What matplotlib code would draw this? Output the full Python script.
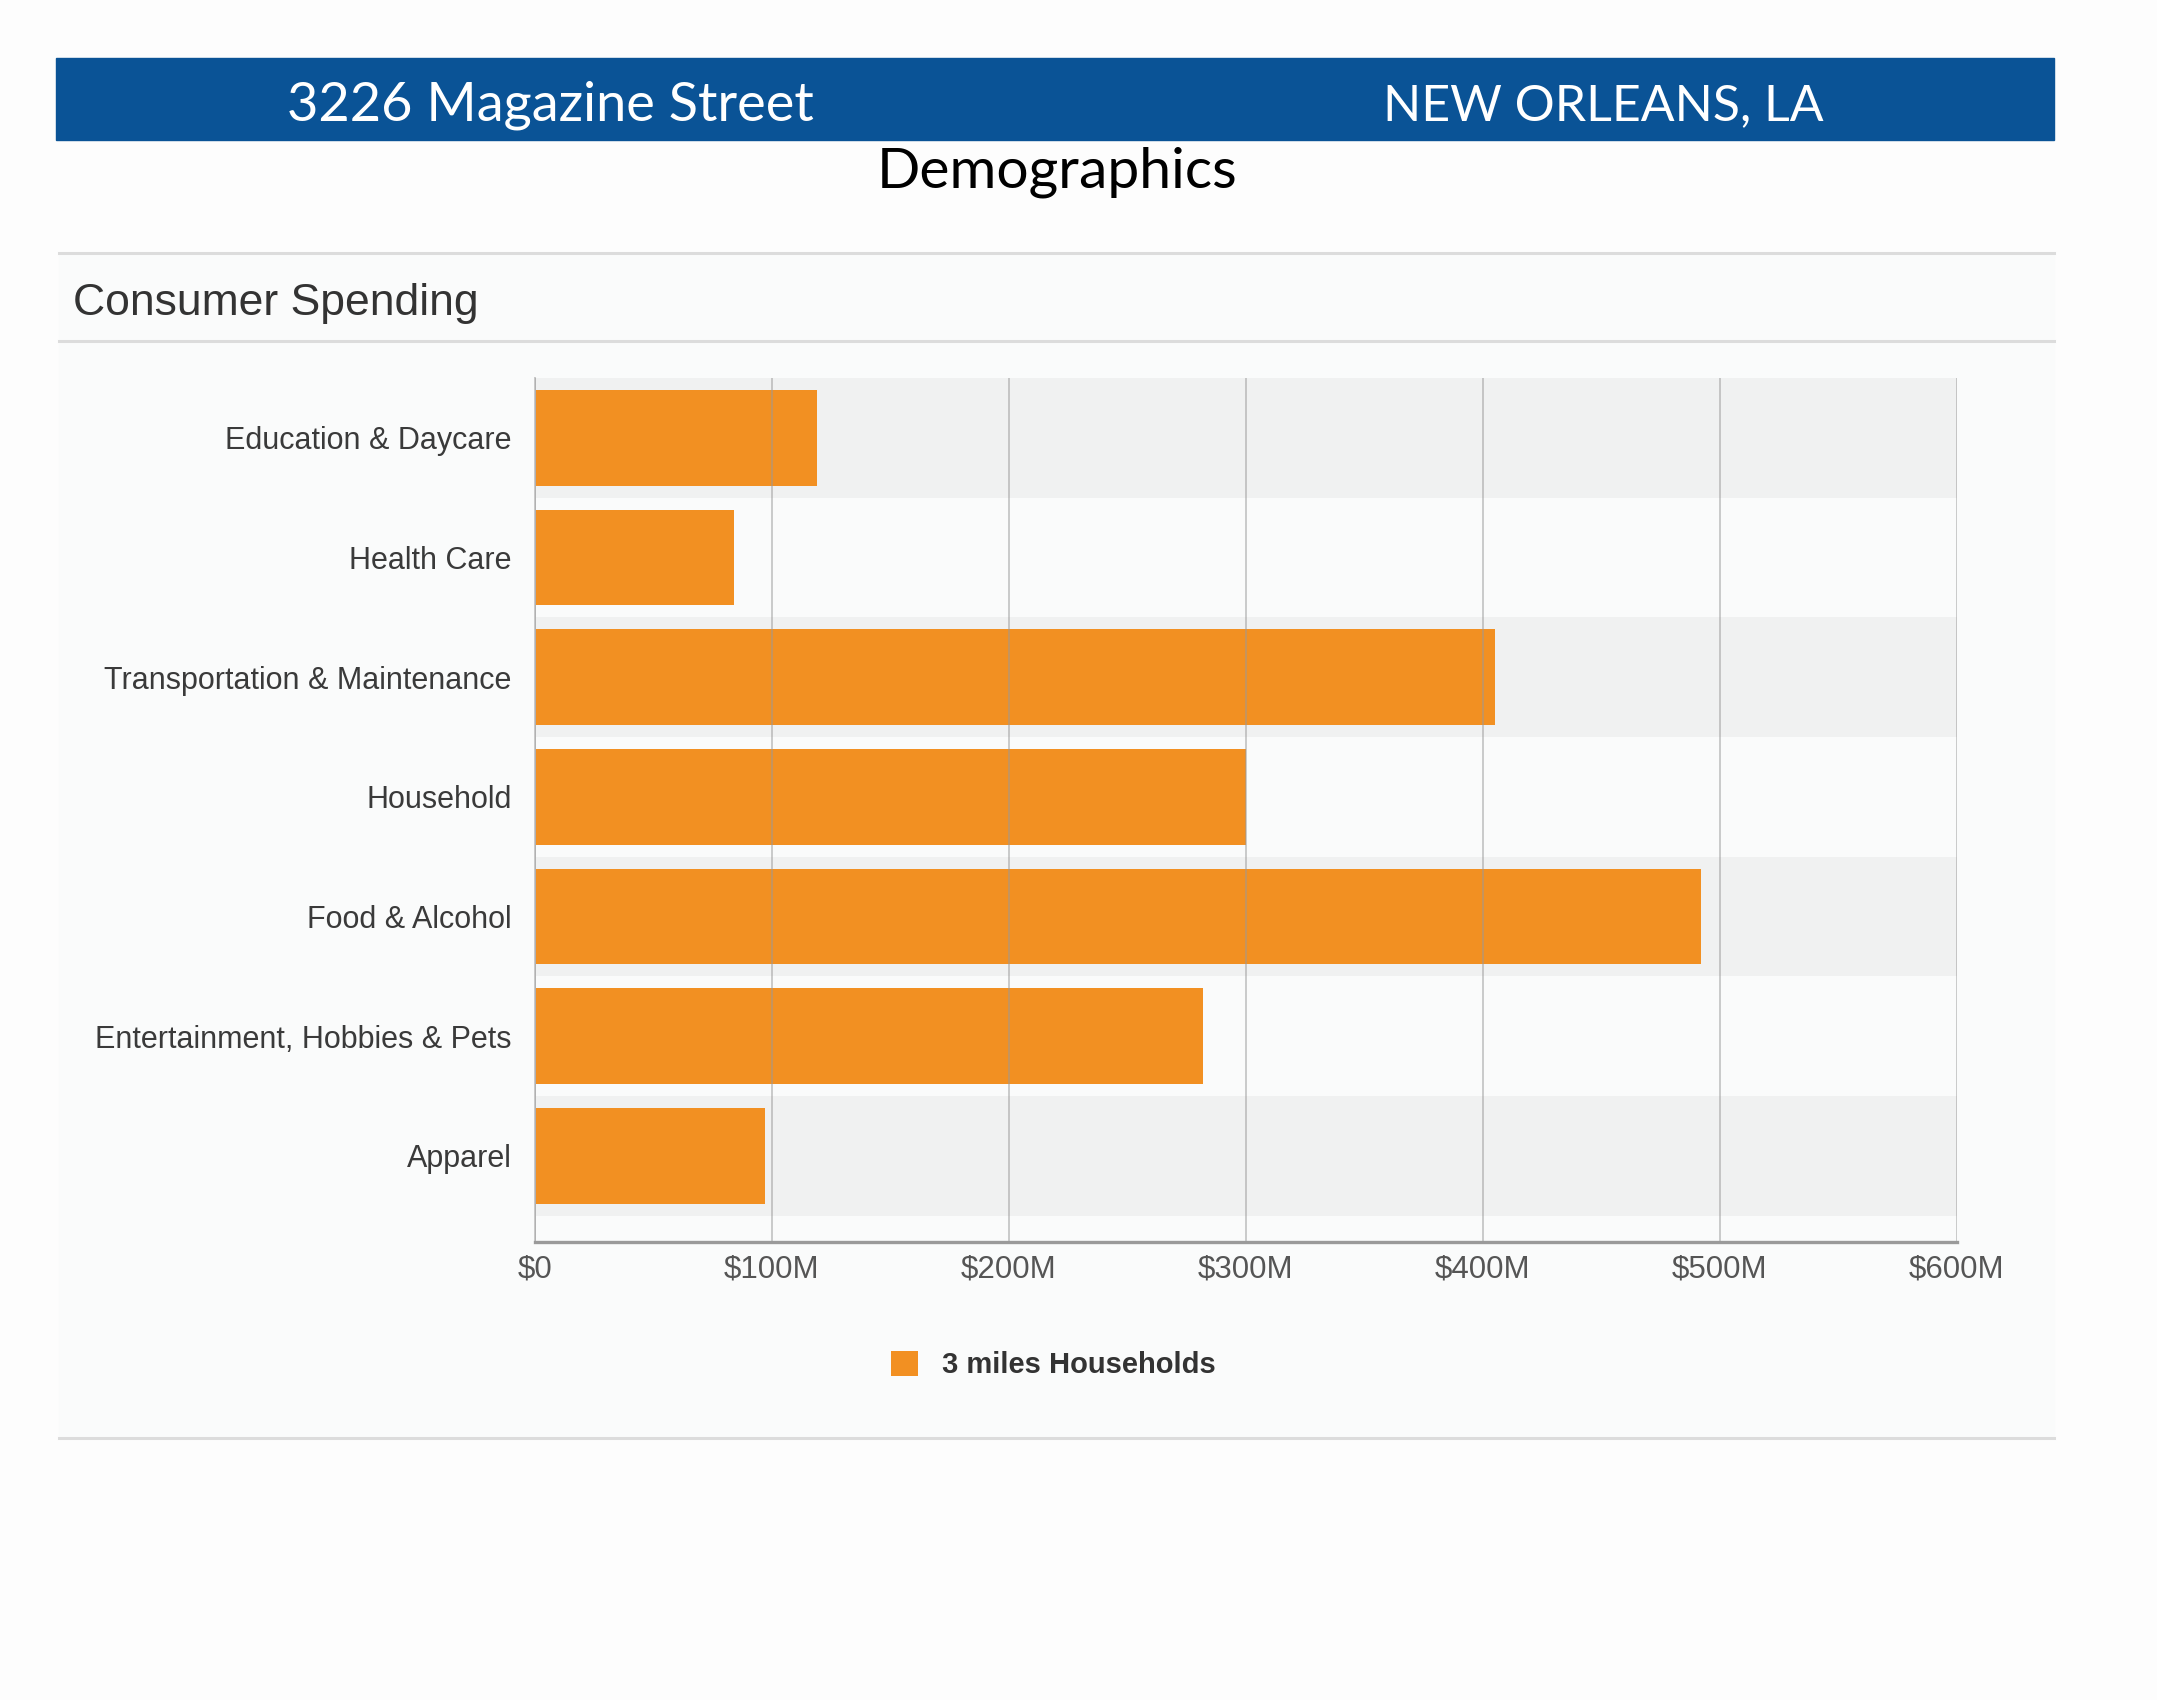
import matplotlib
matplotlib.use("Agg")
import matplotlib.pyplot as plt
from matplotlib.patches import Rectangle

W, H = 2157, 1700

# data (in $M)
categories = ["Education & Daycare", "Health Care", "Transportation & Maintenance",
              "Household", "Food & Alcohol", "Entertainment, Hobbies & Pets", "Apparel"]
spending = [119, 84, 405, 300, 492, 282, 97]
x_ticks = [0, 100, 200, 300, 400, 500, 600]
x_tick_labels = ["$0", "$100M", "$200M", "$300M", "$400M", "$500M", "$600M"]
series_name = "3 miles Households"

ORANGE = "#f29022"
BLUE = "#0a5396"
BAND = "#f0f1f1"
PANEL = "#fafbfb"
TEXT = "#3a3a3a"


def fx(px):
    return px / W


def fy(py):
    return 1 - py / H


fig = plt.figure(figsize=(W / 100, H / 100), dpi=100)
fig.patch.set_facecolor("#fdfdfd")

# header banner
fig.patches.append(Rectangle((fx(56), fy(140)), fx(2054) - fx(56), fy(58) - fy(140),
                             transform=fig.transFigure, color=BLUE, zorder=-10))
fig.text(fx(550), fy(120), "3226 Magazine Street", color="white", fontsize=39,
         family="Lato", ha="center", va="baseline")
fig.text(fx(1603), fy(120), "NEW ORLEANS, LA", color="white", fontsize=36,
         family="Lato", ha="center", va="baseline")
fig.text(fx(1057), fy(187), "Demographics", color="black", fontsize=41,
         family="Lato", ha="center", va="baseline")

# panel
fig.patches.append(Rectangle((fx(59), fy(1438)), fx(2054) - fx(59), fy(253) - fy(1438),
                             transform=fig.transFigure, color=PANEL, zorder=-10))
for yy in [253, 341, 1438]:
    fig.lines.append(plt.Line2D([fx(59), fx(2054)], [fy(yy), fy(yy)],
                                transform=fig.transFigure, color="#dcdcdc", lw=2.2,
                                zorder=-5))
fig.text(fx(73), fy(315), "Consumer Spending", color="#333333", fontsize=32,
         family="Liberation Sans", ha="left", va="baseline")

# chart
ax = fig.add_axes([fx(535), fy(1242), fx(1957) - fx(535), fy(378) - fy(1242)])
ax.set_facecolor("none")
ax.set_zorder(5)

for i in range(0, len(categories), 2):
    ax.axhspan(i - 0.5, i + 0.5, color=BAND, zorder=0, lw=0)

bars = ax.barh(range(len(categories)), spending, height=0.8, color=ORANGE,
               label=series_name, zorder=2)

ax.set_xlim(0, 600)
ax.set_ylim(len(categories) - 0.5 + 0.22, -0.5)
ax.set_xticks(x_ticks)
ax.set_xticklabels(x_tick_labels, fontsize=22.5, color="#555555", family="Liberation Sans")
ax.set_yticks(range(len(categories)))
ax.set_yticklabels(categories, fontsize=22, color=TEXT, family="Liberation Sans")
ax.tick_params(axis="x", length=0, pad=9)
ax.tick_params(axis="y", length=0, pad=17)

ax.xaxis.grid(True, color="#999999", alpha=0.5, lw=1.4, zorder=3)
ax.set_axisbelow(False)

for side in ["top", "right"]:
    ax.spines[side].set_visible(False)
ax.spines["left"].set_color("#c8c8c8")
ax.spines["left"].set_linewidth(1.4)
ax.spines["bottom"].set_color("#9a9a9a")
ax.spines["bottom"].set_linewidth(2.4)

leg = fig.legend(handles=[bars], loc="center", bbox_to_anchor=(fx(1053), fy(1365)),
                 frameon=False, handlelength=0.95, handleheight=0.95, handletextpad=0.8,
                 prop={"family": "Liberation Sans", "weight": "bold", "size": 21})
for t in leg.get_texts():
    t.set_color("#333333")

fig.savefig("out.png", dpi=100, facecolor=fig.get_facecolor())
